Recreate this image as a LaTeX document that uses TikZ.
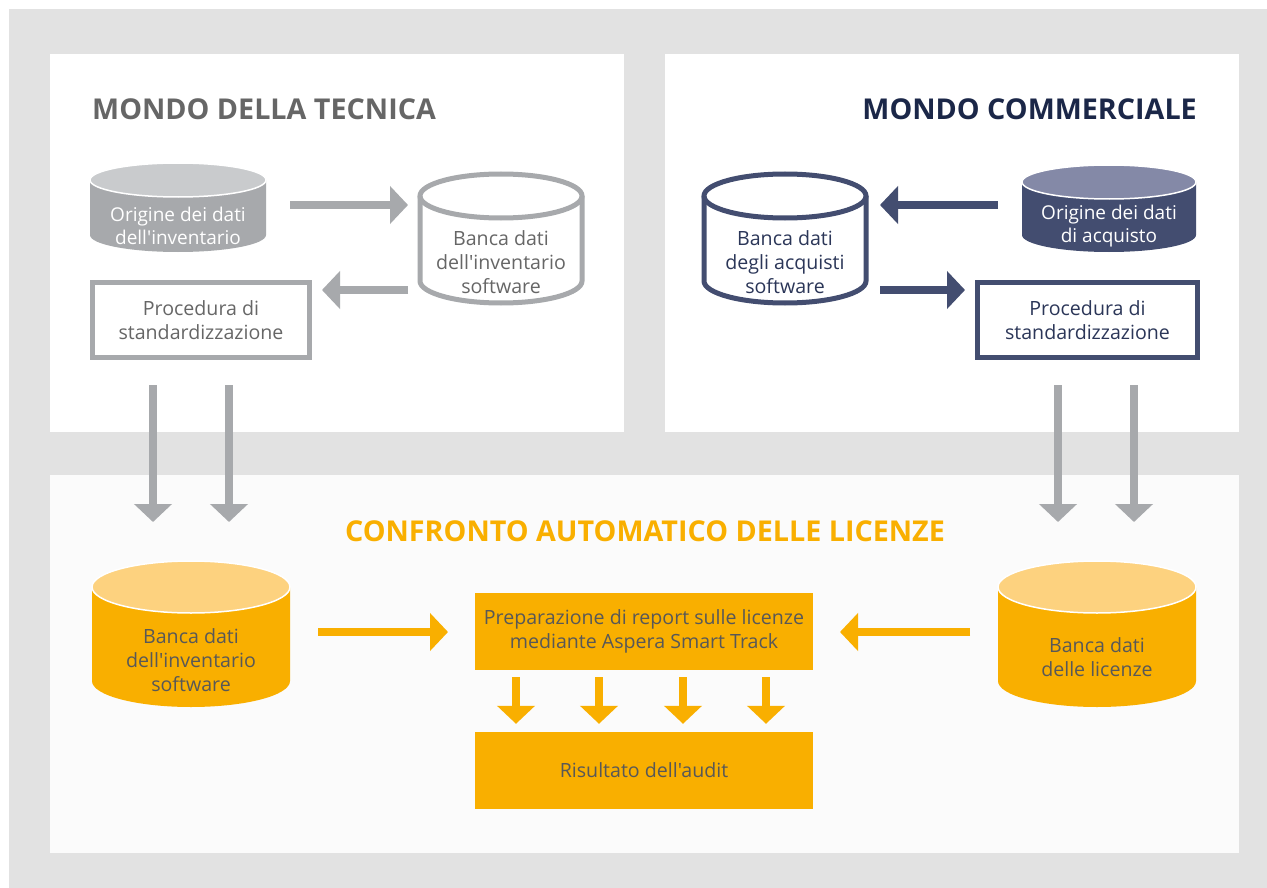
\documentclass[tikz,border=0pt]{standalone}
\usepackage{fontspec}
\setmainfont{Open Sans}[Ligatures=TeXOff]
\usetikzlibrary{arrows.meta}

\definecolor{bggray}{HTML}{E2E2E2}
\definecolor{panellight}{HTML}{FBFBFB}
\definecolor{techgray}{HTML}{A7A9AC}
\definecolor{techtop}{HTML}{C9CBCD}
\definecolor{techtext}{HTML}{666666}
\definecolor{commnavy}{HTML}{434D70}
\definecolor{commtop}{HTML}{8489A7}
\definecolor{commtext}{HTML}{2B3658}
\definecolor{commtitle}{HTML}{1B2748}
\definecolor{licorange}{HTML}{F9AF00}
\definecolor{lictop}{HTML}{FDD27F}
\definecolor{lictext}{HTML}{585858}

% cx, top y, bottom y, rx, ry, body colour, top colour
\newcommand{\filledcyl}[7]{%
  \fill[#6] ({#1-#4},#2) -- ({#1-#4},#3) arc[start angle=180,end angle=360,x radius=#4pt,y radius=#5pt] -- ({#1+#4},#2) -- cycle;
  \filldraw[fill=#7,draw=white,line width=1.5pt] (#1,#2) ellipse[x radius=#4pt,y radius=#5pt];}
% cx, top y, bottom y, rx, ry, colour
\newcommand{\outlinedcyl}[6]{%
  \draw[#6,line width=5pt,fill=white] ({#1-#4},#2) -- ({#1-#4},#3) arc[start angle=180,end angle=360,x radius=#4pt,y radius=#5pt] -- ({#1+#4},#2);
  \draw[#6,line width=5pt] (#1,#2) ellipse[x radius=#4pt,y radius=#5pt];}

\begin{document}
\begin{tikzpicture}[x=1pt,y=-1pt,
	title/.style={font=\fontsize{28.7}{34}\selectfont\bfseries,inner sep=0pt},
	txt/.style={font=\fontsize{19.6}{24}\selectfont,align=center},
	smalltxt/.style={font=\fontsize{19}{23}\selectfont,align=center},
	fatarrow/.style={line width=8pt,-{Triangle[width=37pt,length=18pt]}}]

	\useasboundingbox (0,0) rectangle (1267,888);
	\fill[white] (0,0) rectangle (1267,888);
	\fill[bggray] (9,9) rectangle (1267,888);
	\fill[white] (50,54) rectangle (624,432);
	\fill[white] (665,54) rectangle (1239,432);
	\fill[panellight] (50,475) rectangle (1239,853);

	% titles
	\node[title,techtext,anchor=base west] (title-tec) at (92,120) {MONDO DELLA TECNICA};
	\node[title,commtitle,anchor=base east] (title-com) at (1197,120) {MONDO COMMERCIALE};
	\node[title,licorange,anchor=base] (title-lic) at (645,541) {CONFRONTO AUTOMATICO DELLE LICENZE};

	% mondo della tecnica
	\filledcyl{178}{180}{235}{88}{17}{techgray}{techtop}
	\node[smalltxt,white] (orig-inv) at (178,226) {Origine dei dati\\dell'inventario};
	\outlinedcyl{501}{196}{281}{81}{22}{techgray}
	\node[txt,techtext] (db-inv) at (501,262) {Banca dati\\dell'inventario\\software};
	\node[txt,techtext,draw=techgray,line width=5pt,minimum width=217pt,minimum height=75pt] (proc-tec) at (201,320) {Procedura di\\standardizzazione};

	\coordinate (tec-r1) at (290,205);
	\coordinate (tec-r2) at (408,205);
	\coordinate (tec-l1) at (408,290);
	\coordinate (tec-l2) at (322,290);
	\draw[fatarrow,techgray] (tec-r1) -- (tec-r2);
	\draw[fatarrow,techgray] (tec-l1) -- (tec-l2);

	% mondo commerciale
	\outlinedcyl{785}{196}{281}{81}{22}{commnavy}
	\node[txt,commtext] (db-acq) at (785,262) {Banca dati\\degli acquisti\\software};
	\filledcyl{1109}{182}{235}{87}{17}{commnavy}{commtop}
	\node[smalltxt,white] (orig-acq) at (1109,226) {Origine dei dati\\di acquisto};
	\node[txt,commtext,draw=commnavy,line width=5pt,minimum width=220pt,minimum height=75pt] (proc-com) at (1087.5,320) {Procedura di\\standardizzazione};

	\coordinate (com-l1) at (998,205);
	\coordinate (com-l2) at (880,205);
	\coordinate (com-r1) at (880,290);
	\coordinate (com-r2) at (965,290);
	\draw[fatarrow,commnavy] (com-l1) -- (com-l2);
	\draw[fatarrow,commnavy] (com-r1) -- (com-r2);

	% down into the comparison
	\foreach \x [count=\i] in {153,229,1058,1134} {
		\coordinate (down-\i) at (\x,385);
		\draw[fatarrow,techgray] (down-\i) -- ++(0,137);
	}

	% confronto automatico
	\filledcyl{191}{587}{681}{99}{26}{licorange}{lictop}
	\node[txt,lictext] (db-inv-lic) at (191,660) {Banca dati\\dell'inventario\\software};
	\filledcyl{1097}{587}{681}{99}{26}{licorange}{lictop}
	\node[txt,lictext] (db-lic) at (1097,657) {Banca dati\\delle licenze};
	\node[txt,lictext,fill=licorange,minimum width=338pt,minimum height=77pt] (report) at (644,631.5) {Preparazione di report sulle licenze\\mediante Aspera Smart Track};
	\node[txt,lictext,fill=licorange,minimum width=338pt,minimum height=77pt] (audit) at (644,770.5) {Risultato dell'audit};

	\coordinate (lic-r1) at (318,632);
	\coordinate (lic-r2) at (448,632);
	\coordinate (lic-l1) at (970,632);
	\coordinate (lic-l2) at (840,632);
	\draw[fatarrow,licorange] (lic-r1) -- (lic-r2);
	\draw[fatarrow,licorange] (lic-l1) -- (lic-l2);

	\foreach \x [count=\i] in {516,599,683,766} {
		\coordinate (split-\i) at (\x,677);
		\draw[fatarrow,licorange,shorten >=8pt] (split-\i) -- (split-\i |- audit.north);
	}
\end{tikzpicture}
\end{document}
